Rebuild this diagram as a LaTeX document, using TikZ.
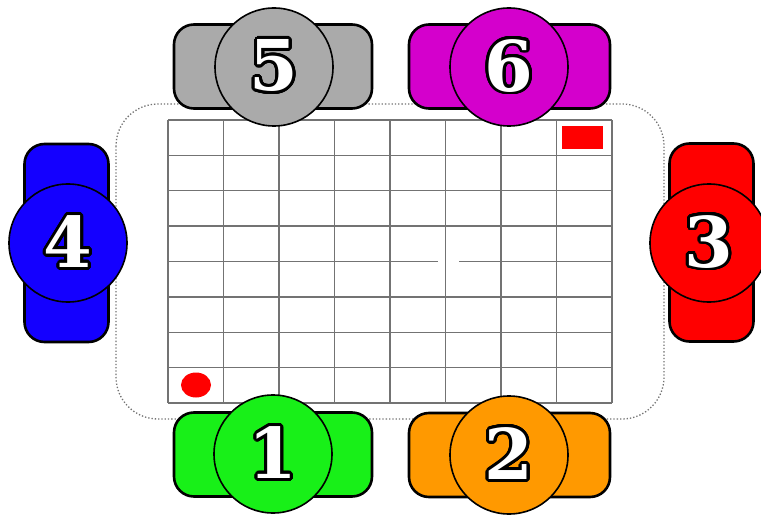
\documentclass[tikz,border=0pt]{standalone}
\usepackage{fontspec}
\usepackage[copies]{contour}
\usetikzlibrary{shapes.geometric}
\newfontfamily\numfont{DejaVu Serif}
\contourlength{2.8pt}
\contournumber{32}
\newcommand{\seatnum}[1]{\contour{black}{\textcolor{white}{#1}}}
\definecolor{sgreen}{RGB}{24,240,24}
\definecolor{sorange}{RGB}{255,153,0}
\definecolor{sred}{RGB}{255,0,0}
\definecolor{sblue}{RGB}{20,0,255}
\definecolor{smag}{RGB}{212,0,204}
\definecolor{sgray}{RGB}{170,170,170}
\begin{document}
\begin{tikzpicture}[x=1pt,y=-1pt,
  seatbox/.style={draw=black, line width=2.6pt, rounded corners=20pt, inner sep=0pt},
  hbox/.style={seatbox, minimum width=198pt, minimum height=84pt},
  vbox/.style={seatbox, minimum width=84pt, minimum height=198pt},
  seatdisk/.style={circle, draw=black, line width=1.6pt, minimum size=118pt, inner sep=0pt,
    font=\numfont\bfseries\fontsize{70}{70}\selectfont},
  gridline/.style={draw=black!55, line width=1.3pt},
  table/.style={draw=black!55, line width=1.3pt, dotted, rounded corners=42pt}]
\useasboundingbox (0,0) rectangle (761,516);
\fill[white] (0,0) rectangle (761,516);
% table outline
\draw[table] (116,104) rectangle (664,419);
% grid
\foreach \i in {0,...,8} {
  \draw[gridline] ({168+\i*55.5},120) -- ({168+\i*55.5},403);
}
\foreach \j in {0,1,2,3,5,6,7,8} {
  \draw[gridline] (168,{120+\j*35.375}) -- (612,{120+\j*35.375});
}
\draw[gridline] (168,261.5) -- (438,261.5);
\draw[gridline] (459,261.5) -- (612,261.5);
% markers
\node[fill=sred, ellipse, minimum width=30pt, minimum height=25pt, inner sep=0pt] (dot) at (196,385) {};
\node[fill=sred, minimum width=41pt, minimum height=23pt, inner sep=0pt] (flag) at (582.5,137.5) {};
% seats
\node[hbox, fill=sgray] (b5) at (273,66.5) {};
\node[seatdisk, fill=sgray] (c5) at (274,67) {\seatnum{5}};
\node[hbox, fill=smag, minimum width=201pt] (b6) at (509.5,66.5) {};
\node[seatdisk, fill=smag] (c6) at (509,67) {\seatnum{6}};
\node[vbox, fill=sblue] (b4) at (66.5,243) {};
\node[seatdisk, fill=sblue] (c4) at (68,243) {\seatnum{4}};
\node[vbox, fill=sred] (b3) at (711.5,242.5) {};
\node[seatdisk, fill=sred] (c3) at (709,243) {\seatnum{3}};
\node[hbox, fill=sgreen] (b1) at (273,454.5) {};
\node[seatdisk, fill=sgreen] (c1) at (273,454) {\seatnum{1}};
\node[hbox, fill=sorange, minimum width=201pt] (b2) at (509.5,455) {};
\node[seatdisk, fill=sorange] (c2) at (509,455) {\seatnum{2}};
\end{tikzpicture}
\end{document}
